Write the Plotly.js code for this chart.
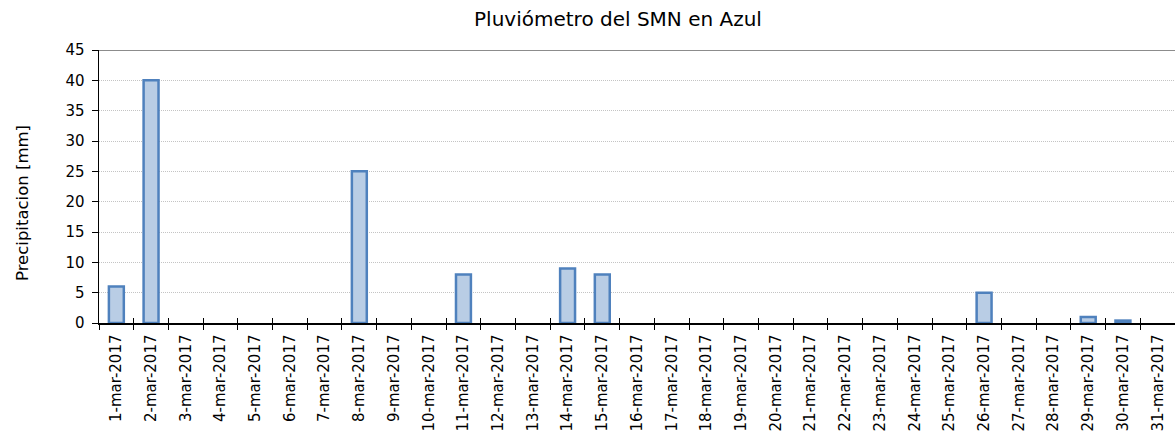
<!DOCTYPE html>
<html><head><meta charset="utf-8">
<script src="https://cdn.plot.ly/plotly-3.0.1.min.js"></script>
<style>body{margin:0;padding:0;background:#fff}#chart{width:1175px;height:435px}</style>
</head><body><div id="chart"></div>
<script>
const days = ["1-mar-2017","2-mar-2017","3-mar-2017","4-mar-2017","5-mar-2017","6-mar-2017","7-mar-2017","8-mar-2017","9-mar-2017","10-mar-2017","11-mar-2017","12-mar-2017","13-mar-2017","14-mar-2017","15-mar-2017","16-mar-2017","17-mar-2017","18-mar-2017","19-mar-2017","20-mar-2017","21-mar-2017","22-mar-2017","23-mar-2017","24-mar-2017","25-mar-2017","26-mar-2017","27-mar-2017","28-mar-2017","29-mar-2017","30-mar-2017","31-mar-2017"];
const precip = [6,40,0,0,0,0,0,25,0,0,8,0,0,9,8,0,0,0,0,0,0,0,0,0,0,5,0,0,1,0.4,0];
const titleText = "Pluviómetro del SMN en Azul";
const yTitle = "Precipitacion [mm]";
const yTicks = [0,5,10,15,20,25,30,35,40,45];

const font = "Tahoma, 'DejaVu Sans', sans-serif";
const trace = {
  type: "bar", x: days, y: precip.map(v => v === 0 ? null : v),
  marker: {color: "#B9CDE5", line: {color: "#4F81BD", width: 2.5}},
  hoverinfo: "x+y"
};
const ghost = {type:"bar", x: days, y: precip.map(()=>null), xaxis:"x2", yaxis:"y", showlegend:false, hoverinfo:"skip"};
const layout = {
  width: 1175, height: 435,
  margin: {l: 99, r: 0, t: 50, b: 112, pad: 0},
  paper_bgcolor: "#fff", plot_bgcolor: "#fff",
  showlegend: false, bargap: 0.57,
  title: {text: titleText, font: {family: font, size: 20, color: "#000"}, x: 618/1175, xanchor: "center", y: 1 - 19/435, yanchor: "middle"},
  xaxis: {
    type: "category", categoryorder: "array", categoryarray: days,
    tickson: "boundaries", ticks: "outside", ticklen: 5, tickcolor: "#000", tickwidth: 1,
    showline: true, linecolor: "#000", linewidth: 1.5, showgrid: false, zeroline: false,
    tickangle: -90, tickfont: {family: font, size: 15, color: "#000"}, ticklabelstandoff: 4,
    range: [-0.5, 30.5]
  },
  xaxis2: {
    type: "category", categoryorder: "array", categoryarray: days, overlaying: "x",
    matches: "x", tickson: "boundaries", ticks: "inside", ticklen: 5, tickcolor: "#000",
    showticklabels: false, showgrid: false, showline: false, zeroline: false, side: "bottom", anchor: "y"
  },
  yaxis: {
    range: [0, 45], tickvals: yTicks, ticks: "outside", ticklen: 6, tickcolor: "#000",
    showline: true, linecolor: "#000", linewidth: 1.5, zeroline: false,
    showgrid: true, gridcolor: "#C4C4C4", griddash: "1px,1px", gridwidth: 1,
    tickfont: {family: font, size: 15, color: "#000"}, ticklabelstandoff: 4
  },
  annotations: [{
    text: yTitle, textangle: -90, showarrow: false,
    xref: "paper", yref: "paper", x: (22 - 99) / 1076, y: (323 - 203) / 273,
    xanchor: "center", yanchor: "middle",
    font: {family: font, size: 16.5, color: "#000"}
  }],
  shapes: [{type: "line", xref: "paper", yref: "y", x0: 0, x1: 1, y0: 45, y1: 45, line: {color: "#8C8C8C", width: 2}}]
};
Plotly.newPlot("chart", [trace, ghost], layout, {displayModeBar: false, staticPlot: true});
</script></body></html>
